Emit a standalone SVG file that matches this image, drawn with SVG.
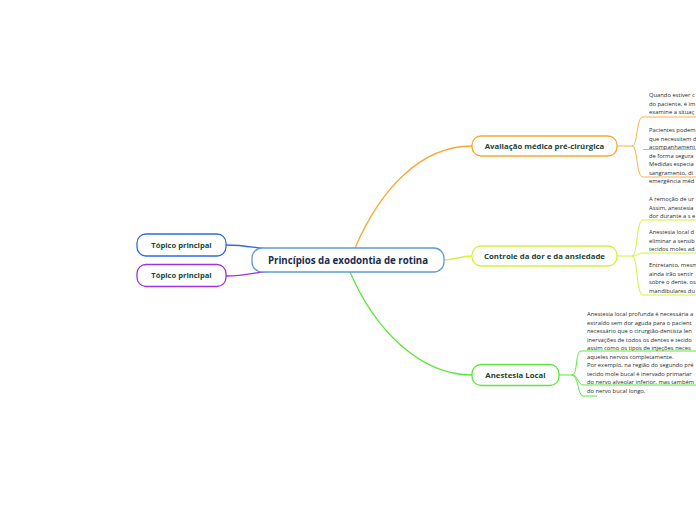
<svg xmlns="http://www.w3.org/2000/svg" width="696" height="520" viewBox="0 0 696 520">
<style>
.node{fill:#ffffff;stroke-width:1.3}
.t{font-family:"Open Sans","Noto Sans",sans-serif;font-weight:700;text-anchor:middle;fill:#1b4636}
.c{font-family:"Open Sans","Noto Sans",sans-serif;font-weight:700;text-anchor:middle;fill:#1a2b4c;font-size:9.7px}
.b{font-family:"Open Sans","Noto Sans",sans-serif;font-size:5.8px;fill:#2a2a2a}
.ln{fill:none}
</style>
<rect width="696" height="520" fill="#ffffff"/>
<g id="connectors">
<path class="ln" d="M226,245 C248,245 258,249 280,250" stroke="#2d6be0" stroke-width="1.3"/>
<path class="ln" d="M226,276 C248,276 258,271 280,270" stroke="#a030e0" stroke-width="1.3"/>
<path class="ln" d="M355,248 C380,190 420,146 472,146" stroke="#f8a832" stroke-width="1.3"/>
<path class="ln" d="M443,260 C455,260 460,256 472,256" stroke="#d6f03c" stroke-width="1.3"/>
<path class="ln" d="M350,272 C375,330 420,375 472,375" stroke="#5ce63c" stroke-width="1.3"/>
<g stroke="#f8b04a" stroke-width="1" fill="none">
<path d="M617,146 L632,146 C638,146 636,117 643,117 L696,117"/>
<path d="M632,146 C638,146 636,177 643,177 L696,177"/>
<path d="M643,149.5 L696,149.5"/>
</g>
<g stroke="#d6f03c" stroke-width="1" fill="none">
<path d="M617,256 L632,256 C638,256 636,220 643,220 L696,220"/>
<path d="M632,256 C638,256 638,253 643,253 L696,253"/>
<path d="M632,256 C638,256 636,295 643,295 L696,295"/>
</g>
<g stroke="#5ce63c" stroke-width="1" fill="none">
<path d="M559,375 L572,375 C578,375 575,351 581,351 L696,351"/>
<path d="M572,375 C578,375 578,385 583,385 L696,385"/>
<path d="M572,375 C578,375 578,396 583,396 L597,396"/>
</g>
</g>
<g id="central">
<rect class="node" x="252" y="248" width="192" height="24" rx="10" stroke="#5b9bd5"/>
<text class="c" x="348" y="263.5">Princípios da exodontia de rotina</text>
</g>
<g id="topico1">
<rect class="node" x="137" y="234" width="89" height="22" rx="9" stroke="#2d6be0"/>
<text class="t" x="181.5" y="247.8" font-size="7.6">Tópico principal</text>
</g>
<g id="topico2">
<rect class="node" x="137" y="264.5" width="89" height="22" rx="9" stroke="#a030e0"/>
<text class="t" x="181.5" y="278.3" font-size="7.6">Tópico principal</text>
</g>
<g id="avaliacao">
<rect class="node" x="472" y="136" width="145" height="20" rx="9" stroke="#f8a832"/>
<text class="t" x="544.5" y="149" font-size="7.8">Avaliação médica pré-cirúrgica</text>
</g>
<g id="controle">
<rect class="node" x="472" y="246" width="145" height="20" rx="9" stroke="#d6f03c"/>
<text class="t" x="544.5" y="259" font-size="7.8">Controle da dor e da ansiedade</text>
</g>
<g id="anestesia">
<rect class="node" x="472" y="364.5" width="87" height="21" rx="9" stroke="#5ce63c"/>
<text class="t" x="515.5" y="378" font-size="7.8">Anestesia Local</text>
</g>
<g id="avaliacao-textos">
<text class="b" x="649" y="97">Quando estiver c</text>
<text class="b" x="649" y="105.5">do paciente, é im</text>
<text class="b" x="649" y="114">examine a situaç</text>
<text class="b" x="649" y="132">Pacientes podem</text>
<text class="b" x="649" y="140.5">que necessitem d</text>
<text class="b" x="649" y="149">acompanhament</text>
<text class="b" x="649" y="157.5">de forma segura</text>
<text class="b" x="649" y="166">Medidas especia</text>
<text class="b" x="649" y="174.5">sangramento, di</text>
<text class="b" x="649" y="183">emergência méd</text>
</g>
<g id="controle-textos">
<text class="b" x="649" y="201">A remoção de ur</text>
<text class="b" x="649" y="209.5">Assim, anestesia</text>
<text class="b" x="649" y="218">dor durante a s e</text>
<text class="b" x="649" y="234">Anestesia local d</text>
<text class="b" x="649" y="242.5">eliminar a sensib</text>
<text class="b" x="649" y="251">tecidos moles ad</text>
<text class="b" x="649" y="267">Entretanto, mesm</text>
<text class="b" x="649" y="275.5">ainda irão sentir</text>
<text class="b" x="649" y="284">sobre o dente, os</text>
<text class="b" x="649" y="292.5">mandibulares du</text>
</g>
<g id="anestesia-textos">
<text class="b" x="587" y="316">Anestesia local profunda é necessária a</text>
<text class="b" x="587" y="324.5">extraído sem dor aguda para o pacient</text>
<text class="b" x="587" y="333">necessário que o cirurgião-dentista len</text>
<text class="b" x="587" y="341.5">inervações de todos os dentes e tecido</text>
<text class="b" x="587" y="350">assim como os tipos de injeções neces</text>
<text class="b" x="587" y="358.5">aqueles nervos completamente.</text>
<text class="b" x="587" y="367">Por exemplo, na região do segundo pré</text>
<text class="b" x="587" y="375.5">tecido mole bucal é inervado primariar</text>
<text class="b" x="587" y="384">do nervo alveolar inferior, mas também</text>
<text class="b" x="587" y="392.5">do nervo bucal longo.</text>
</g>
</svg>
